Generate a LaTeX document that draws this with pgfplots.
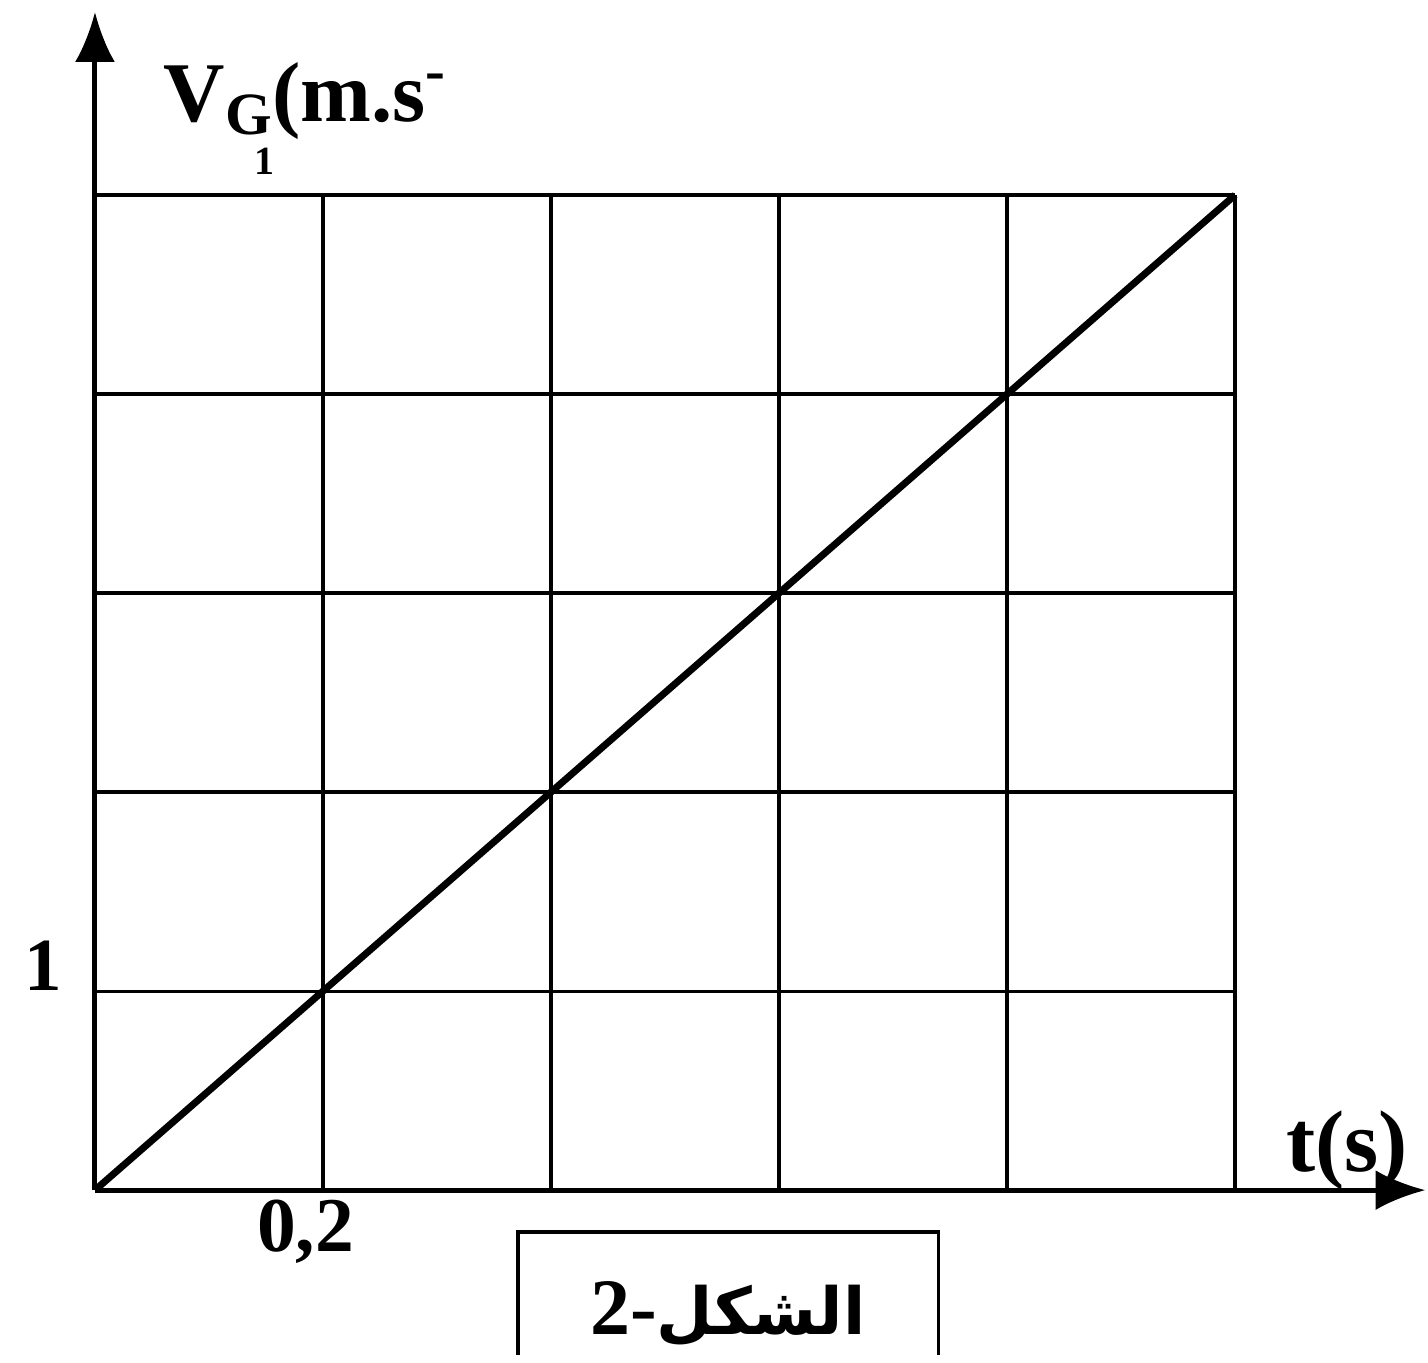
\documentclass[border=0pt]{standalone}
\usepackage{fontspec}
\setmainfont{Liberation Serif}
\newfontfamily\arabicfont[Script=Arabic]{DejaVu Sans}
\TeXXeTstate=1
\usepackage{pgfplots}
\pgfplotsset{compat=1.18}
\usetikzlibrary{arrows.meta}

\begin{document}
\begin{tikzpicture}
\begin{axis}[
  scale only axis, width=228pt, height=199pt,
  xmin=0, xmax=1, ymin=0, ymax=5,
  axis lines=left, axis line style={draw=none},
  clip=false,
  xtick={0,0.2,0.4,0.6,0.8,1}, ytick={0,1,2,3,4,5},
  xticklabels={,{0,2},,,,}, yticklabels={,1,,,,},
  major tick length=0pt,
  grid=major, grid style={black, line width=0.65pt},
  xticklabel style={font=\bfseries\fontsize{15.5}{15.5}\selectfont, xshift=-3.5pt, yshift=1.5pt},
  yticklabel style={font=\bfseries\fontsize{15}{15}\selectfont, yshift=5pt, xshift=-3pt},
]
% invisible box giving the page the reference's proportions
\path (axis cs:-0.0833,5.98) rectangle (axis cs:1.169,-0.829);

% axes with arrows
\draw[line width=1pt, -{Latex[length=10pt,width=8pt]}] (axis cs:0,0) -- (axis cs:1.167,0);
\draw[line width=1pt, -{Latex[length=10pt,width=8pt]}] (axis cs:0,0) -- (axis cs:0,5.92);

% V_G(t)
\addplot[black, line width=1.4pt, mark=none] coordinates {(0,0) (0.2,1) (0.4,2) (0.6,3) (0.8,4) (1.0,5)};

\node[anchor=west, font=\bfseries\fontsize{17}{17}\selectfont] at (axis cs:0.045,5.47)
  {V{\fontsize{12}{12}\selectfont\raisebox{-2.5pt}{G}}(m.s\textsuperscript{-}};
\node[font=\bfseries\fontsize{8}{8}\selectfont] at (axis cs:0.149,5.17) {1};
\node[font=\bfseries\fontsize{17.5}{17.5}\selectfont] at (axis cs:1.098,0.2) {t(s)};

% caption box
\draw[line width=0.7pt] (axis cs:0.371,-0.829) |- (axis cs:0.74,-0.21) -- (axis cs:0.74,-0.829);
\node[font=\bfseries\fontsize{16}{16}\selectfont] at (axis cs:0.555,-0.62)
  {2-{\arabicfont\fontsize{13}{13}\selectfont\beginR الشكل\endR}};
\end{axis}
\end{tikzpicture}
\end{document}
